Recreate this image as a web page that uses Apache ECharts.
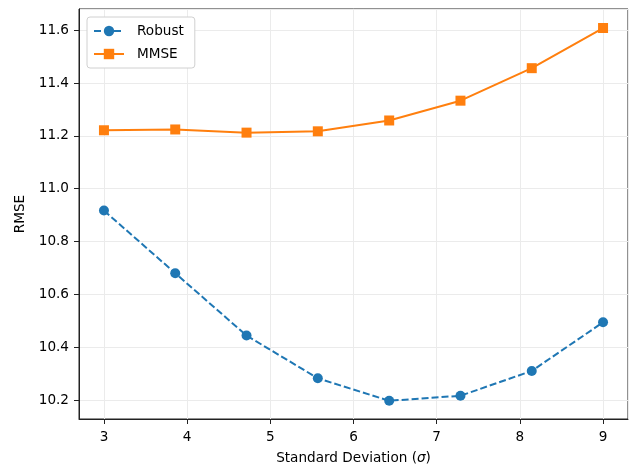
<!DOCTYPE html>
<html>
<head>
<meta charset="UTF-8">
<title>RMSE vs Standard Deviation</title>
<script src="https://cdn.jsdelivr.net/npm/echarts@6/dist/echarts.min.js"></script>
<style>
  html, body { margin: 0; padding: 0; background: #fff; }
  #chart { width: 629px; height: 466px; }
</style>
</head>
<body>
<div id="chart"></div>
<script>
// data
const sigmas = [3, 3.857, 4.714, 5.571, 6.429, 7.286, 8.143, 9];
const robust = [10.917, 10.680, 10.444, 10.282, 10.197, 10.216, 10.310, 10.494];
const mmse = [11.221, 11.224, 11.212, 11.217, 11.258, 11.333, 11.456, 11.608];
const seriesNames = ['Robust', 'MMSE'];

const font = 'DejaVu Sans, sans-serif';
const chart = echarts.init(document.getElementById('chart'));

function pairs(ys) {
  return sigmas.map((x, i) => [x, ys[i]]);
}

chart.setOption({
  animation: false,
  textStyle: { fontFamily: font },
  grid: {
    left: 79, right: 1, top: 9, bottom: 47,
    outerBoundsMode: 'none',
    containLabel: false,
    show: true, borderColor: '#222', borderWidth: 1, backgroundColor: 'transparent'
  },
  legend: {
    data: seriesNames,
    orient: 'vertical',
    left: 87, top: 17,
    padding: [7, 11, 7, 6],
    itemGap: 9,
    itemWidth: 30,
    itemHeight: 13,
    backgroundColor: '#fff',
    borderColor: '#d0d0d0',
    borderWidth: 1,
    borderRadius: 3,
    textStyle: { fontFamily: font, fontSize: 13.6, color: '#000', padding: [0, 0, 0, 8] }
  },
  xAxis: {
    type: 'value',
    min: 2.7, max: 9.3,
    splitNumber: 7,
    name: 'Standard Deviation ({i|σ})',
    nameLocation: 'middle',
    nameGap: 32,
    nameTextStyle: {
      fontFamily: font, fontSize: 13.6, color: '#000',
      rich: { i: { fontStyle: 'italic', fontFamily: font, fontSize: 13.6, color: '#000' } }
    },
    axisLine: { lineStyle: { color: '#222', width: 1 } },
    axisTick: { inside: false, length: 5, lineStyle: { color: '#222' } },
    axisLabel: {
      showMinLabel: false, showMaxLabel: false,
      color: '#000', fontSize: 13.6, fontFamily: font, margin: 11
    },
    splitLine: { show: true, lineStyle: { color: '#ebebeb', width: 1 } }
  },
  yAxis: {
    type: 'value',
    min: 10.128, max: 11.68,
    splitNumber: 8,
    name: 'RMSE',
    nameLocation: 'middle',
    nameGap: 50,
    nameTextStyle: { fontFamily: font, fontSize: 13.6, color: '#000' },
    axisLine: { show: true, lineStyle: { color: '#222', width: 1 } },
    axisTick: { show: true, inside: false, length: 5, lineStyle: { color: '#222' } },
    axisLabel: {
      showMinLabel: false, showMaxLabel: false,
      color: '#000', fontSize: 13.6, fontFamily: font, margin: 10,
      formatter: v => v.toFixed(1)
    },
    splitLine: { show: true, lineStyle: { color: '#ebebeb', width: 1 } }
  },
  series: [
    {
      name: 'Robust',
      type: 'line',
      data: pairs(robust),
      symbol: 'circle',
      symbolSize: 10,
      itemStyle: { color: '#1f77b4' },
      lineStyle: { color: '#1f77b4', width: 2, type: [7, 3] }
    },
    {
      name: 'MMSE',
      type: 'line',
      data: pairs(mmse),
      symbol: 'rect',
      symbolSize: 10,
      itemStyle: { color: '#ff7f0e' },
      lineStyle: { color: '#ff7f0e', width: 2 }
    }
  ]
});
</script>
</body>
</html>
